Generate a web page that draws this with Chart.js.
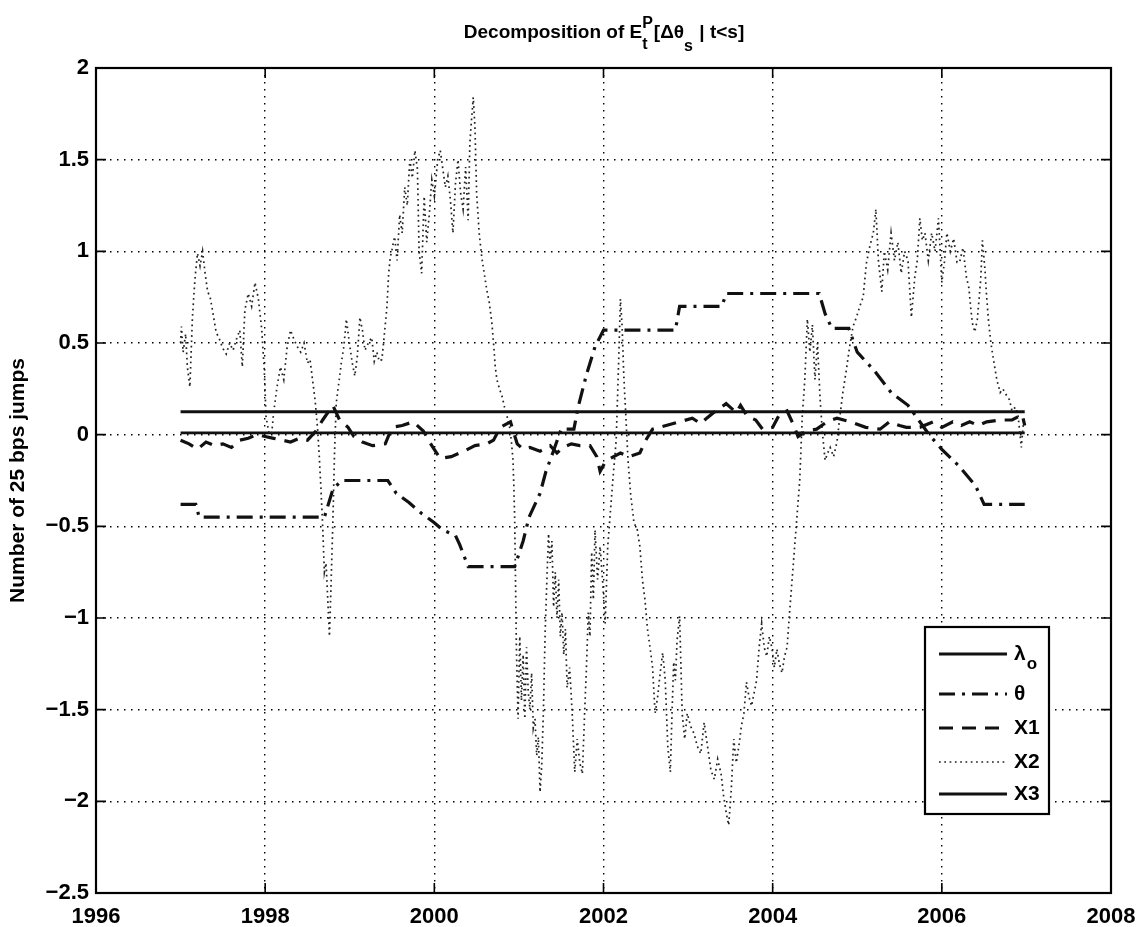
<!DOCTYPE html>
<html><head><meta charset="utf-8">
<script src="https://cdn.jsdelivr.net/npm/chart.js@4"></script>
<style>html,body{margin:0;padding:0;background:#fff}</style>
</head><body>
<canvas id="c" width="1141" height="927"></canvas>
<script>
// ---------- data ----------
const xTicks = [1996, 1998, 2000, 2002, 2004, 2006, 2008];
const yTicks = [-2.5, -2, -1.5, -1, -0.5, 0, 0.5, 1, 1.5, 2];

const lambdaYears = [1997.0, 2006.98];
const lambdaVals  = [0.125, 0.125];

const x3Years = [1997.0, 2006.98];
const x3Vals  = [0.01, 0.01];

const thetaYears = [1997.0,1997.18,1997.22,1998.7,1998.8,1998.9,1999.45,1999.55,1999.7,1999.85,2000.0,2000.1,2000.25,2000.3,2000.4,2000.95,2001.05,2001.12,2001.25,2001.32,2001.4,2001.5,2001.65,2001.7,2001.8,2001.9,2002.0,2002.85,2002.9,2003.4,2003.45,2004.55,2004.62,2004.7,2004.9,2005.0,2005.2,2005.4,2005.6,2005.85,2006.0,2006.2,2006.4,2006.5,2006.98];
const thetaVals  = [-0.38,-0.38,-0.45,-0.45,-0.30,-0.25,-0.25,-0.32,-0.37,-0.43,-0.48,-0.52,-0.55,-0.60,-0.72,-0.72,-0.58,-0.45,-0.32,-0.2,-0.1,0.03,0.03,0.15,0.33,0.48,0.57,0.57,0.70,0.70,0.77,0.77,0.66,0.58,0.58,0.45,0.35,0.23,0.16,0.0,-0.08,-0.17,-0.28,-0.38,-0.38];

const x1Years = [1997.0,1997.1,1997.2,1997.3,1997.4,1997.5,1997.6,1997.7,1997.8,1997.9,1998.0,1998.1,1998.2,1998.3,1998.4,1998.5,1998.6,1998.68,1998.8,1998.88,1998.98,1999.05,1999.15,1999.27,1999.42,1999.5,1999.62,1999.75,1999.87,1999.97,2000.07,2000.2,2000.35,2000.48,2000.62,2000.7,2000.78,2000.9,2000.98,2001.05,2001.13,2001.25,2001.37,2001.45,2001.52,2001.62,2001.72,2001.84,2001.92,2001.96,2002.02,2002.08,2002.2,2002.3,2002.43,2002.5,2002.58,2002.74,2002.9,2003.05,2003.15,2003.22,2003.3,2003.37,2003.45,2003.57,2003.62,2003.7,2003.8,2003.88,2004.0,2004.08,2004.17,2004.25,2004.3,2004.4,2004.52,2004.64,2004.76,2004.92,2005.1,2005.27,2005.38,2005.5,2005.58,2005.74,2005.9,2006.0,2006.13,2006.23,2006.33,2006.43,2006.53,2006.69,2006.83,2006.95,2006.98];
const x1Vals  = [-0.03,-0.05,-0.08,-0.04,-0.06,-0.05,-0.07,-0.03,-0.02,0.0,-0.01,-0.02,-0.03,-0.04,-0.02,-0.03,0.02,0.08,0.16,0.08,0.04,-0.01,-0.04,-0.06,-0.05,0.04,0.05,0.07,0.02,-0.06,-0.13,-0.12,-0.09,-0.06,-0.05,-0.03,0.04,0.07,-0.05,-0.08,-0.07,-0.09,-0.06,-0.1,-0.07,-0.05,-0.06,-0.06,-0.12,-0.2,-0.15,-0.13,-0.1,-0.12,-0.1,-0.03,0.03,0.05,0.07,0.09,0.06,0.09,0.12,0.14,0.17,0.12,0.16,0.1,0.08,0.03,0.04,0.11,0.13,0.05,-0.01,0.02,0.03,0.07,0.09,0.07,0.04,0.03,0.07,0.05,0.04,0.04,0.07,0.04,0.07,0.05,0.07,0.05,0.07,0.08,0.08,0.11,0.05];

const x2Years = [1997.00,1997.01,1997.03,1997.06,1997.08,1997.11,1997.14,1997.17,1997.20,1997.23,1997.26,1997.29,1997.32,1997.35,1997.38,1997.42,1997.46,1997.50,1997.54,1997.58,1997.62,1997.66,1997.70,1997.73,1997.76,1997.80,1997.84,1997.88,1997.92,1997.96,1997.99,1998.01,1998.04,1998.07,1998.10,1998.14,1998.18,1998.22,1998.26,1998.30,1998.34,1998.38,1998.42,1998.46,1998.50,1998.53,1998.56,1998.59,1998.62,1998.64,1998.66,1998.68,1998.70,1998.72,1998.74,1998.76,1998.78,1998.80,1998.82,1998.84,1998.87,1998.90,1998.93,1998.96,1998.99,1999.03,1999.06,1999.09,1999.12,1999.15,1999.18,1999.22,1999.26,1999.29,1999.32,1999.35,1999.38,1999.41,1999.44,1999.46,1999.48,1999.50,1999.53,1999.56,1999.59,1999.62,1999.65,1999.68,1999.71,1999.74,1999.77,1999.80,1999.82,1999.85,1999.88,1999.91,1999.94,1999.97,2000.00,2000.04,2000.07,2000.10,2000.13,2000.16,2000.19,2000.22,2000.25,2000.28,2000.31,2000.34,2000.37,2000.40,2000.42,2000.44,2000.46,2000.48,2000.50,2000.53,2000.56,2000.59,2000.62,2000.65,2000.68,2000.70,2000.72,2000.74,2000.77,2000.80,2000.83,2000.86,2000.89,2000.91,2000.93,2000.94,2000.95,2000.96,2000.97,2000.99,2001.01,2001.03,2001.05,2001.07,2001.09,2001.11,2001.13,2001.15,2001.17,2001.19,2001.21,2001.23,2001.25,2001.27,2001.29,2001.31,2001.33,2001.35,2001.37,2001.39,2001.41,2001.43,2001.45,2001.47,2001.49,2001.51,2001.53,2001.55,2001.57,2001.60,2001.63,2001.66,2001.69,2001.72,2001.75,2001.78,2001.80,2001.82,2001.84,2001.86,2001.88,2001.90,2001.93,2001.96,2001.99,2002.02,2002.05,2002.08,2002.11,2002.15,2002.18,2002.20,2002.22,2002.24,2002.26,2002.29,2002.32,2002.36,2002.40,2002.43,2002.46,2002.49,2002.52,2002.55,2002.58,2002.61,2002.64,2002.67,2002.70,2002.73,2002.76,2002.79,2002.81,2002.83,2002.85,2002.87,2002.90,2002.93,2002.96,2002.99,2003.03,2003.07,2003.11,2003.15,2003.19,2003.23,2003.27,2003.31,2003.35,2003.39,2003.42,2003.45,2003.48,2003.51,2003.54,2003.57,2003.60,2003.63,2003.66,2003.69,2003.72,2003.75,2003.78,2003.81,2003.84,2003.87,2003.90,2003.93,2003.96,2003.99,2004.02,2004.05,2004.08,2004.11,2004.14,2004.17,2004.20,2004.23,2004.26,2004.29,2004.32,2004.35,2004.38,2004.41,2004.44,2004.47,2004.50,2004.53,2004.56,2004.59,2004.62,2004.65,2004.68,2004.72,2004.76,2004.80,2004.83,2004.87,2004.91,2004.95,2004.99,2005.03,2005.07,2005.09,2005.11,2005.15,2005.19,2005.22,2005.25,2005.29,2005.32,2005.36,2005.40,2005.44,2005.48,2005.52,2005.56,2005.60,2005.64,2005.66,2005.68,2005.71,2005.74,2005.77,2005.80,2005.84,2005.88,2005.92,2005.96,2006.00,2006.03,2006.06,2006.10,2006.14,2006.18,2006.21,2006.25,2006.29,2006.32,2006.34,2006.36,2006.39,2006.42,2006.44,2006.46,2006.48,2006.51,2006.53,2006.55,2006.58,2006.61,2006.65,2006.69,2006.72,2006.77,2006.80,2006.83,2006.87,2006.90,2006.94,2006.97];
const x2Vals  = [0.50,0.59,0.45,0.55,0.37,0.26,0.64,0.85,0.99,0.92,1.00,0.88,0.78,0.75,0.67,0.56,0.52,0.47,0.44,0.50,0.46,0.52,0.57,0.37,0.68,0.77,0.70,0.83,0.74,0.57,0.35,0.10,0.02,-0.03,0.12,0.26,0.37,0.30,0.48,0.57,0.52,0.48,0.45,0.50,0.39,0.41,0.30,0.19,0.03,-0.12,-0.30,-0.50,-0.75,-0.70,-0.90,-1.10,-0.80,-0.48,-0.10,0.17,0.28,0.39,0.48,0.63,0.52,0.39,0.32,0.43,0.64,0.57,0.46,0.50,0.53,0.40,0.45,0.40,0.41,0.55,0.70,0.88,0.97,1.01,1.08,0.95,1.20,1.10,1.35,1.25,1.50,1.40,1.55,1.45,1.00,0.88,1.30,1.05,1.20,1.39,1.30,1.50,1.55,1.45,1.35,1.41,1.28,1.10,1.37,1.50,1.32,1.23,1.46,1.17,1.59,1.72,1.84,1.68,1.32,1.10,0.97,0.88,0.79,0.72,0.61,0.50,0.37,0.30,0.25,0.21,0.15,0.10,0.04,-0.03,-0.14,-0.28,-0.46,-0.80,-1.16,-1.55,-1.10,-1.45,-1.20,-1.55,-1.16,-1.40,-1.50,-1.30,-1.60,-1.55,-1.75,-1.65,-1.95,-1.80,-1.50,-1.08,-0.80,-0.54,-0.70,-0.58,-0.94,-0.75,-1.00,-0.79,-1.10,-0.97,-1.20,-1.06,-1.38,-1.27,-1.52,-1.84,-1.66,-1.79,-1.85,-1.48,-1.25,-0.97,-1.10,-0.64,-0.90,-0.52,-0.79,-0.61,-0.80,-1.03,-0.61,-0.43,-0.25,-0.03,0.41,0.74,0.59,0.32,0.14,-0.14,-0.32,-0.48,-0.52,-0.61,-0.79,-0.90,-1.06,-1.16,-1.27,-1.52,-1.43,-1.30,-1.19,-1.34,-1.70,-1.84,-1.52,-1.24,-1.34,-1.12,-0.99,-1.52,-1.66,-1.52,-1.59,-1.63,-1.70,-1.74,-1.57,-1.70,-1.83,-1.88,-1.77,-1.85,-1.97,-2.06,-2.13,-1.94,-1.66,-1.79,-1.70,-1.59,-1.52,-1.35,-1.43,-1.48,-1.41,-1.34,-1.16,-1.03,-1.16,-1.21,-1.10,-1.16,-1.27,-1.17,-1.25,-1.30,-1.21,-1.16,-0.97,-0.79,-0.61,-0.43,-0.25,0.10,0.30,0.63,0.45,0.60,0.30,0.50,0.20,0.00,-0.14,-0.10,-0.07,-0.12,-0.04,0.12,0.23,0.35,0.48,0.59,0.64,0.70,0.75,0.85,0.94,1.03,1.10,1.23,0.95,0.78,1.00,0.90,1.10,0.95,1.05,0.88,1.00,0.95,0.64,0.75,0.86,0.95,1.18,1.06,1.10,0.95,1.10,1.00,1.18,0.83,0.94,1.10,1.00,1.07,0.94,0.94,1.02,0.86,0.80,0.70,0.61,0.56,0.63,0.74,0.85,1.06,0.90,0.75,0.63,0.50,0.41,0.30,0.23,0.25,0.21,0.19,0.13,0.15,0.11,-0.07,0.10];

const seriesNames = ['\u03bb', '\u03b8', 'X1', 'X2', 'X3'];

// ---------- helpers ----------
const pts = (xs, ys) => xs.map((x, i) => ({x: x, y: ys[i]}));
const FONT = '"Liberation Sans", Arial, Helvetica, sans-serif';
const styles = [
  {color: '#111', width: 2.8, dash: []},
  {color: '#111', width: 3.2, dash: [16, 7, 3, 7]},
  {color: '#111', width: 3.2, dash: [14, 9]},
  {color: '#222', width: 1.7, dash: [1.7, 3.6]},
  {color: '#111', width: 2.8, dash: []}
];

const frameAndTicks = {
  id: 'frameAndTicks',
  afterDatasetsDraw(chart) {
    const {ctx, chartArea: a, scales: {x, y}} = chart;
    ctx.save();
    ctx.strokeStyle = '#000';
    ctx.lineWidth = 2.2;
    ctx.setLineDash([]);
    ctx.strokeRect(a.left, a.top, a.right - a.left, a.bottom - a.top);
    const L = 10;
    ctx.lineWidth = 1.6;
    ctx.beginPath();
    x.ticks.forEach(t => {
      const px = x.getPixelForValue(t.value);
      ctx.moveTo(px, a.bottom); ctx.lineTo(px, a.bottom - L);
      ctx.moveTo(px, a.top); ctx.lineTo(px, a.top + L);
    });
    y.ticks.forEach(t => {
      const py = y.getPixelForValue(t.value);
      ctx.moveTo(a.left, py); ctx.lineTo(a.left + L, py);
      ctx.moveTo(a.right, py); ctx.lineTo(a.right - L, py);
    });
    ctx.stroke();
    ctx.restore();
  },
  afterDraw(chart) {
    const ctx = chart.ctx;
    ctx.save();
    // ---- title with super/subscripts ----
    const big = 'bold 19px ' + FONT, small = 'bold 16px ' + FONT;
    const parts = [
      {t: 'Decomposition of E', f: big, dy: 0},
      {t: 't', f: small, dy: 11, sup: 'P'},
      {t: '[\u0394\u03b8', f: big, dy: 0},
      {t: 's', f: small, dy: 13},
      {t: ' | t<s]', f: big, dy: 0}
    ];
    let total = 0;
    parts.forEach(p => {
      ctx.font = p.f;
      let w = ctx.measureText(p.t).width;
      if (p.sup) { w = Math.max(w, ctx.measureText(p.sup).width); }
      p.w = w; total += w + (p.f === small ? 1 : 0);
    });
    let cx = 604 - total / 2;
    const base = 38;
    ctx.fillStyle = '#000';
    ctx.textBaseline = 'alphabetic';
    ctx.textAlign = 'left';
    parts.forEach(p => {
      ctx.font = p.f;
      ctx.fillText(p.t, cx, base + p.dy);
      if (p.sup) ctx.fillText(p.sup, cx, base - 10);
      cx += p.w + (p.f === small ? 1 : 0);
    });

    // ---- legend ----
    const bx = 925, by = 627, bw = 124, bh = 187;
    ctx.fillStyle = '#fff';
    ctx.fillRect(bx, by, bw, bh);
    ctx.strokeStyle = '#000';
    ctx.lineWidth = 2.2;
    ctx.setLineDash([]);
    ctx.strokeRect(bx, by, bw, bh);
    const rows = [654, 694, 728, 762, 794];
    rows.forEach((ry, i) => {
      const s = styles[i];
      ctx.strokeStyle = s.color;
      ctx.lineWidth = s.width;
      ctx.setLineDash(s.dash);
      ctx.beginPath();
      ctx.moveTo(939, ry); ctx.lineTo(1007, ry);
      ctx.stroke();
      ctx.setLineDash([]);
      ctx.fillStyle = '#000';
      ctx.font = 'bold 21px ' + FONT;
      ctx.textBaseline = 'middle';
      ctx.fillText(seriesNames[i], 1014, ry);
      if (i === 0) {
        const w = ctx.measureText(seriesNames[i]).width;
        ctx.font = 'bold 17px ' + FONT;
        ctx.fillText('o', 1014 + w + 1, ry + 10);
      }
    });
    ctx.restore();
  }
};

const mk = (label, xs, ys, i) => ({
  label: label,
  data: pts(xs, ys),
  borderColor: styles[i].color,
  borderWidth: styles[i].width,
  borderDash: styles[i].dash,
  pointRadius: 0,
  fill: false,
  tension: 0,
  borderCapStyle: 'butt'
});

new Chart(document.getElementById('c'), {
  type: 'line',
  data: {
    datasets: [
      mk('\u03bb_o', lambdaYears, lambdaVals, 0),
      mk('\u03b8', thetaYears, thetaVals, 1),
      mk('X1', x1Years, x1Vals, 2),
      mk('X2', x2Years, x2Vals, 3),
      mk('X3', x3Years, x3Vals, 4)
    ]
  },
  options: {
    responsive: false,
    animation: false,
    devicePixelRatio: 1,
    layout: {padding: {top: 68, right: 30, left: 0, bottom: 0}},
    plugins: {legend: {display: false}, tooltip: {enabled: false}, title: {display: false}},
    scales: {
      x: {
        type: 'linear', min: 1996, max: 2008,
        afterBuildTicks: s => { s.ticks = xTicks.map(v => ({value: v})); },
        afterFit: s => { s.height = 34; s.paddingLeft = 0; s.paddingRight = 0; },
        ticks: {color: '#000', font: {family: FONT, size: 22, weight: 'bold'}, padding: 11, maxRotation: 0,
                callback: v => String(v)},
        grid: {color: '#000', lineWidth: 1.4, drawTicks: false},
        border: {display: false, dash: [1.5, 5.5]}
      },
      y: {
        type: 'linear', min: -2.5, max: 2,
        afterBuildTicks: s => { s.ticks = yTicks.map(v => ({value: v})); },
        afterFit: s => { s.width = 96; s.paddingTop = 0; s.paddingBottom = 0; },
        ticks: {color: '#000', font: {family: FONT, size: 22, weight: 'bold'}, padding: 7,
                callback: v => (v < 0 ? '\u2212' + String(-v) : String(v))},
        grid: {color: '#000', lineWidth: 1.4, drawTicks: false},
        border: {display: false, dash: [1.5, 5.5]},
        title: {display: true, text: 'Number of 25 bps jumps', color: '#000',
                font: {family: FONT, size: 21, weight: 'bold'}, padding: {top: 6, bottom: 0}}
      }
    }
  },
  plugins: [frameAndTicks]
});
</script>
</body></html>
